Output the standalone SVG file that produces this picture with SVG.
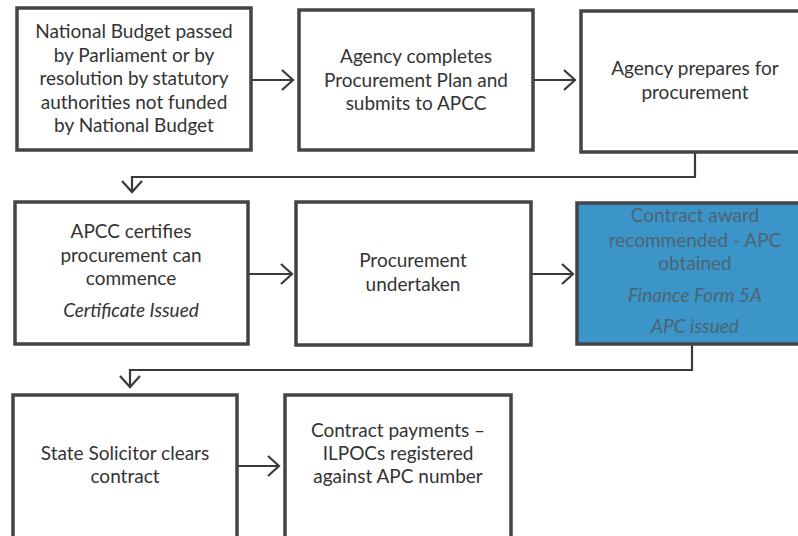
<svg xmlns="http://www.w3.org/2000/svg" width="798" height="536" viewBox="0 0 798 536">
<defs>
<style>
.box{fill:#fff;stroke:#444;stroke-width:3.5}
.blue{fill:#3b95c9;stroke:#444;stroke-width:3.5}
.t{font-family:Lato,"Open Sans","Liberation Sans",sans-serif;font-size:19px;fill:#333;text-anchor:middle}
.tb{font-family:Lato,"Open Sans","Liberation Sans",sans-serif;font-size:19px;fill:#4d6470;text-anchor:middle}
.i{font-style:italic}
.c{fill:none;stroke:#3a3a3a;stroke-width:2.2}
</style>
<marker id="ah" markerUnits="userSpaceOnUse" markerWidth="16" markerHeight="24" refX="12" refY="11" orient="auto">
<path d="M1,1 L12,11 L1,21" fill="none" stroke="#3a3a3a" stroke-width="2.2"/>
</marker>
</defs>
<rect width="798" height="536" fill="#fff"/>
<g id="connectors">
<line class="c" x1="251" y1="80" x2="293" y2="80" marker-end="url(#ah)"/>
<line class="c" x1="533" y1="80" x2="575" y2="80" marker-end="url(#ah)"/>
<polyline class="c" points="695,152 695,177 132,177 132,192" marker-end="url(#ah)"/>
<line class="c" x1="248" y1="274" x2="292" y2="274" marker-end="url(#ah)"/>
<line class="c" x1="531" y1="274" x2="573" y2="274" marker-end="url(#ah)"/>
<polyline class="c" points="692,344 692,370 130,370 130,387" marker-end="url(#ah)"/>
<line class="c" x1="237" y1="466" x2="279" y2="466" marker-end="url(#ah)"/>
</g>
<g id="n1">
<rect class="box" x="17" y="8" width="234" height="142"/>
<text class="t" x="134" y="38">National Budget passed</text>
<text class="t" x="134" y="61.5">by Parliament or by</text>
<text class="t" x="134" y="85">resolution by statutory</text>
<text class="t" x="134" y="108.5">authorities not funded</text>
<text class="t" x="134" y="132">by National Budget</text>
</g>
<g id="n2">
<rect class="box" x="299" y="10" width="234" height="140"/>
<text class="t" x="416" y="63">Agency completes</text>
<text class="t" x="416" y="86.5">Procurement Plan and</text>
<text class="t" x="416" y="110">submits to APCC</text>
</g>
<g id="n3">
<rect class="box" x="581" y="11" width="234" height="141"/>
<text class="t" x="695" y="75">Agency prepares for</text>
<text class="t" x="695" y="98.5">procurement</text>
</g>
<g id="n4">
<rect class="box" x="15" y="202" width="233" height="142"/>
<text class="t" x="131" y="238">APCC certifies</text>
<text class="t" x="131" y="262">procurement can</text>
<text class="t" x="131" y="285">commence</text>
<text class="t i" x="131" y="317">Certificate Issued</text>
</g>
<g id="n5">
<rect class="box" x="296" y="202" width="235" height="143"/>
<text class="t" x="413" y="267">Procurement</text>
<text class="t" x="413" y="291">undertaken</text>
</g>
<g id="n6">
<rect class="blue" x="577" y="203" width="236" height="141"/>
<text class="tb" x="695" y="222">Contract award</text>
<text class="tb" x="695" y="247">recommended - APC</text>
<text class="tb" x="695" y="270">obtained</text>
<text class="tb i" x="695" y="302">Finance Form 5A</text>
<text class="tb i" x="695" y="333">APC issued</text>
</g>
<g id="n7">
<rect class="box" x="13" y="395" width="224" height="145"/>
<text class="t" x="125" y="460">State Solicitor clears</text>
<text class="t" x="125" y="483">contract</text>
</g>
<g id="n8">
<rect class="box" x="285" y="395" width="226" height="145"/>
<text class="t" x="398" y="437">Contract payments –</text>
<text class="t" x="398" y="460">ILPOCs registered</text>
<text class="t" x="398" y="483">against APC number</text>
</g>
</svg>
